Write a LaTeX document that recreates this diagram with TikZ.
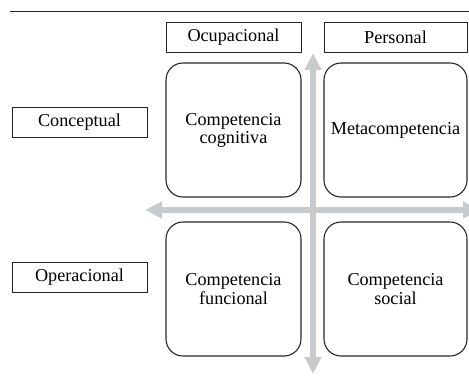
\documentclass[tikz,border=0pt]{standalone}
\usepackage{fontspec}
\setmainfont{Liberation Serif}
\usetikzlibrary{arrows.meta}
\definecolor{ink}{HTML}{262626}
\definecolor{axis}{HTML}{C8CBCE}
\tikzset{
  tagbox/.style={draw=ink, line width=0.5pt, minimum height=15pt, inner sep=0pt,
                 font=\fontsize{9.1}{7.3}\selectfont},
  quadrant/.style={draw=ink, line width=0.55pt, rounded corners=8.5pt, minimum height=67pt,
                   inner sep=0pt, align=center, font=\fontsize{9.1}{7.2}\selectfont},
  axisarrow/.style={{Triangle[length=8.5pt,width=8pt]}-{Triangle[length=8.5pt,width=8pt]},
                    draw=axis, line width=3.4pt}
}
\begin{document}
\begin{tikzpicture}[x=0.5pt,y=-0.5pt]
        \clip (0,0) rectangle (469,375);

        % rule at the top
        \coordinate (ruleL) at (10,11);
        \coordinate (ruleR) at (469,11);
        \draw[draw=ink,line width=0.5pt] (ruleL) -- (ruleR);

        % axes
        \coordinate (west) at (145,210);
        \coordinate (east) at (480,210);
        \coordinate (north) at (313,53);
        \coordinate (south) at (313,374);
        \draw[axisarrow] (west) -- (east);
        \draw[axisarrow] (north) -- (south);

        % column labels
        \node[tagbox,minimum width=67.5pt] (ocup) at (233.5,37) {Ocupacional};
        \node[tagbox,minimum width=71.5pt] (pers) at (395.5,37) {Personal};

        % row labels
        \foreach \name/\y/\lab in {concep/122.5/Conceptual,operac/277.5/Operacional} {
          \node[tagbox,minimum width=67.5pt] (\name) at (79.5,\y) {\lab};
        }

        % quadrants
        \node[quadrant,minimum width=67.5pt] (cogn) at (233.5,130) {Competencia\\cognitiva};
        \node[quadrant,minimum width=71.5pt] (meta) at (395.5,130) {Metacompetencia};
        \node[quadrant,minimum width=67.5pt] (func) at (233.5,289) {Competencia\\funcional};
        \node[quadrant,minimum width=71.5pt] (soci) at (395.5,289) {Competencia\\social};
      \end{tikzpicture}
\end{document}
